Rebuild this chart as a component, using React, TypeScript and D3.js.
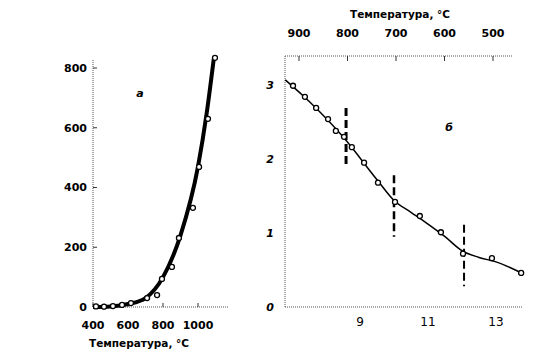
import React from 'react'
import * as d3 from 'd3'

// panel a: rate vs temperature
const tempTicksA = [400, 600, 800, 1000]
const rateTicksA = [0, 200, 400, 600, 800]
const pointsA: [number, number][] = [
  [417, 2], [463, 1], [514, 3], [566, 7], [617, 13], [709, 30], [766, 40],
  [794, 94], [851, 134], [891, 231], [971, 332], [1006, 469], [1057, 630], [1097, 834]
]
const fitA: [number, number][] = [
  [400, 0], [500, 2], [600, 10], [700, 30], [800, 100], [900, 240],
  [1000, 470], [1050, 650], [1090, 830]
]

// panel b: log rate vs 10^4/T
const invTicksB = [9, 11, 13]
const logTicksB = [0, 1, 2, 3]
const tempTicksB = [900, 800, 700, 600, 500]
const pointsB: [number, number][] = [
  [7.03, 2.99], [7.38, 2.84], [7.71, 2.69], [8.06, 2.54], [8.29, 2.38], [8.53, 2.3],
  [8.76, 2.16], [9.12, 1.95], [9.53, 1.68], [10.03, 1.42], [10.76, 1.23], [11.38, 1.01],
  [12.03, 0.72], [12.88, 0.66], [13.74, 0.46]
]
const fitB: [number, number][] = [
  [6.8, 3.07], [7.5, 2.78], [8.5, 2.3], [9.5, 1.72], [10, 1.44], [10.5, 1.28],
  [11, 1.12], [11.5, 0.95], [12, 0.76], [12.5, 0.67], [13, 0.61], [13.75, 0.46]
]
// transition markers: x, y from, y to, width
const breaksB: [number, number, number, number][] = [
  [8.59, 2.69, 1.92, 3], [10.0, 1.78, 0.95, 2.5], [12.06, 1.11, 0.28, 2]
]

const W = 539
const H = 359

export default function App() {
  const xA = d3.scaleLinear().domain([400, 1000]).range([93, 198])
  const yA = d3.scaleLinear().domain([0, 800]).range([307, 68])

  const xB = d3.scaleLinear().domain([9, 13]).range([360, 496])
  const yB = d3.scaleLinear().domain([0, 3]).range([307, 85])
  const tB = d3.scaleLinear().domain([900, 500]).range([299, 493])

  const lineA = d3.line<[number, number]>()
    .x(d => xA(d[0])).y(d => yA(d[1])).curve(d3.curveMonotoneX)
  const lineB = d3.line<[number, number]>()
    .x(d => xB(d[0])).y(d => yB(d[1])).curve(d3.curveMonotoneX)

  const tickFont = { fontFamily: 'DejaVu Sans, sans-serif', fontSize: 11, fontWeight: 700 }
  const numFont = { fontFamily: 'DejaVu Sans, sans-serif', fontSize: 12 }
  const titleFont = { fontFamily: 'DejaVu Sans, sans-serif', fontSize: 10.5, fontWeight: 700 }
  const italic = { fontFamily: 'DejaVu Sans, sans-serif', fontSize: 11, fontStyle: 'italic', fontWeight: 700 }
  const axisStroke = { stroke: '#555', strokeWidth: 1, strokeDasharray: '1 1' }

  return (
    <svg width={W} height={H} style={{ position: 'absolute', left: 0, top: 0, background: '#fff' }}>
      {/* panel a */}
      <line x1={xA(400)} x2={xA(400)} y1={60} y2={yA(0)} {...axisStroke} />
      <line x1={xA(400)} x2={228} y1={yA(0)} y2={yA(0)} {...axisStroke} />
      {rateTicksA.map(t => (
        <g key={`ya-${t}`}>
          <line x1={xA(400)} x2={xA(400) + 4} y1={yA(t)} y2={yA(t)} stroke="#333" />
          <text x={87} y={yA(t)} dy="0.35em" textAnchor="end" style={tickFont}>{t}</text>
        </g>
      ))}
      {tempTicksA.map(t => (
        <g key={`xa-${t}`}>
          <line x1={xA(t)} x2={xA(t)} y1={yA(0)} y2={yA(0) - 4} stroke="#333" />
          <text x={xA(t)} y={325} dy="0.35em" textAnchor="middle" style={tickFont}>{t}</text>
        </g>
      ))}
      <text x={139} y={343} dy="0.35em" textAnchor="middle" style={titleFont}>Температура,  °C</text>
      <path d={lineA(fitA) || ''} fill="none" stroke="#000" strokeWidth={4} />
      {pointsA.map((p, i) => (
        <circle key={`pa-${i}`} cx={xA(p[0])} cy={yA(p[1])} r={2.5} fill="#fff" stroke="#000" strokeWidth={1.3} />
      ))}
      <text x={140} y={93} dy="0.35em" textAnchor="middle" style={italic}>а</text>

      {/* panel b */}
      <line x1={285} x2={285} y1={56} y2={yB(0)} {...axisStroke} />
      <line x1={285} x2={513} y1={56} y2={56} {...axisStroke} />
      <line x1={285} x2={522} y1={yB(0)} y2={yB(0)} {...axisStroke} />
      {logTicksB.map(t => (
        <text key={`yb-${t}`} x={270} y={yB(t)} dy="0.35em" textAnchor="middle" style={italic}>{t}</text>
      ))}
      {invTicksB.map(t => (
        <text key={`xb-${t}`} x={xB(t)} y={322} dy="0.35em" textAnchor="middle" style={numFont}>{t}</text>
      ))}
      {tempTicksB.map(t => (
        <g key={`tb-${t}`}>
          <line x1={tB(t)} x2={tB(t)} y1={56} y2={61} stroke="#333" />
          <text x={tB(t)} y={33} dy="0.35em" textAnchor="middle" style={tickFont}>{t}</text>
        </g>
      ))}
      <text x={400} y={14} dy="0.35em" textAnchor="middle" style={titleFont}>Температура,  °C</text>
      <path d={lineB(fitB) || ''} fill="none" stroke="#000" strokeWidth={1.5} />
      {breaksB.map((b, i) => (
        <line key={`br-${i}`} x1={xB(b[0])} x2={xB(b[0])} y1={yB(b[1])} y2={yB(b[2])}
          stroke="#000" strokeWidth={b[3]} strokeDasharray="8 4" />
      ))}
      {pointsB.map((p, i) => (
        <circle key={`pb-${i}`} cx={xB(p[0])} cy={yB(p[1])} r={2.5} fill="#fff" stroke="#000" strokeWidth={1.3} />
      ))}
      <text x={449} y={127} dy="0.35em" textAnchor="middle" style={italic}>б</text>
    </svg>
  )
}
